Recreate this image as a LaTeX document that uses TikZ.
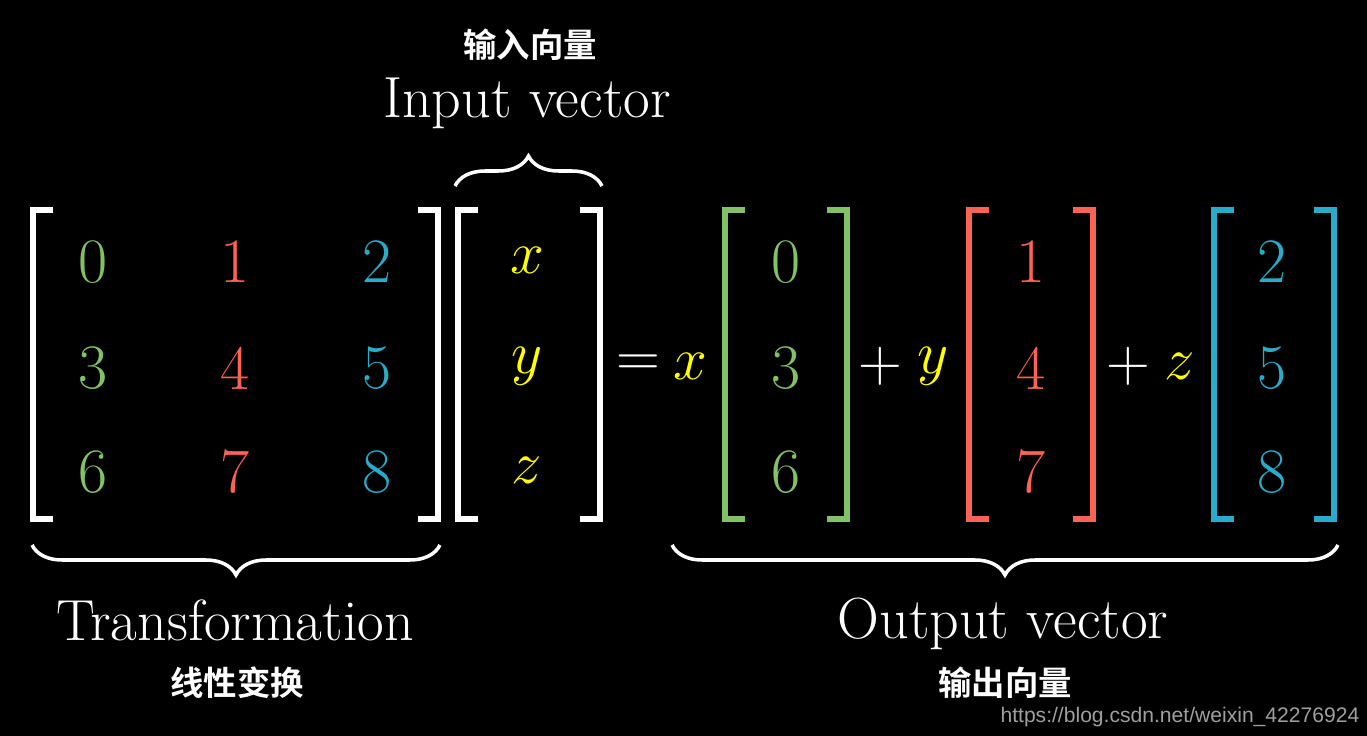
\documentclass[tikz,border=0pt]{standalone}
\usepackage{fontspec}
\newfontfamily\cjk{Noto Sans CJK SC}[BoldFont={* Bold}]
\newfontfamily\wmfont{Liberation Sans}
\usetikzlibrary{decorations.pathreplacing}
\definecolor{cg}{RGB}{131,193,103}
\definecolor{cr}{RGB}{252,98,85}
\definecolor{cb}{RGB}{41,171,202}
\definecolor{cy}{RGB}{255,255,0}
\tikzset{
 num/.style={font=\fontsize{18}{21}\selectfont},
 lbl/.style={white,font=\fontsize{16.5}{19}\selectfont},
 zh/.style={white,font=\cjk\bfseries\fontsize{9.5}{11}\selectfont},
 brk/.style={line width=1.7pt},
 brc/.style={white,line width=1pt,decorate,decoration={brace,amplitude=0.3cm}},
}
\newcommand{\lb}[4]{\draw[brk,#4] (#1+0.2,#3) -- (#1,#3) -- (#1,#2) -- (#1+0.2,#2);}
\newcommand{\rb}[4]{\draw[brk,#4] (#1-0.2,#3) -- (#1,#3) -- (#1,#2) -- (#1-0.2,#2);}
\begin{document}
\begin{tikzpicture}[y=-1cm]
\fill[black] (0,0) rectangle (13.67,7.36);
\useasboundingbox (0,0) rectangle (13.67,7.36);
% matrix
\lb{0.33}{2.1}{5.19}{white}
\rb{4.38}{2.1}{5.19}{white}
\foreach \v/\c/\x/\y in {0/cg/0.93/2.62,1/cr/2.35/2.62,2/cb/3.77/2.62,3/cg/0.93/3.68,4/cr/2.35/3.68,5/cb/3.77/3.68,6/cg/0.93/4.72,7/cr/2.35/4.72,8/cb/3.77/4.72}
  \node[num,\c] (m\v) at (\x,\y) {\v};
% input vector
\lb{4.58}{2.1}{5.19}{white}
\rb{6.0}{2.1}{5.19}{white}
\node[num,cy] (vx) at (5.27,2.6) {$x$};
\node[num,cy] (vy) at (5.27,3.66) {$y$};
\node[num,cy] (vz) at (5.27,4.7) {$z$};
\node[num,white] (eq) at (6.38,3.66) {$=$};
\node[num,cy] (cx) at (6.9,3.66) {$x$};
\lb{7.25}{2.1}{5.19}{cg}
\rb{8.47}{2.1}{5.19}{cg}
\node[num,cg] (g0) at (7.86,2.62) {0};
\node[num,cg] (g1) at (7.86,3.68) {3};
\node[num,cg] (g2) at (7.86,4.72) {6};
\node[num,white] (p1) at (8.8,3.66) {$+$};
\node[num,cy] (cyy) at (9.33,3.66) {$y$};
\lb{9.69}{2.1}{5.19}{cr}
\rb{10.93}{2.1}{5.19}{cr}
\node[num,cr] (r0) at (10.31,2.62) {1};
\node[num,cr] (r1) at (10.31,3.68) {4};
\node[num,cr] (r2) at (10.31,4.72) {7};
\node[num,white] (p2) at (11.28,3.66) {$+$};
\node[num,cy] (cz) at (11.8,3.66) {$z$};
\lb{12.14}{2.1}{5.19}{cb}
\rb{13.34}{2.1}{5.19}{cb}
\node[num,cb] (b0) at (12.72,2.62) {2};
\node[num,cb] (b1) at (12.72,3.68) {5};
\node[num,cb] (b2) at (12.72,4.72) {8};
% braces
\draw[brc] (4.55,1.86) -- (6.02,1.86);
\draw[brc] (4.4,5.45) -- (0.32,5.45);
\draw[brc] (13.38,5.45) -- (6.72,5.45);
\node[lbl] (tin) at (5.27,1.03) {Input vector};
\node[zh] (zin) at (5.3,0.45) {输入向量};
\node[lbl] (ttr) at (2.35,6.2) {Transformation};
\node[zh] (ztr) at (2.37,6.83) {线性变换};
\node[lbl] (tout) at (10.03,6.24) {Output vector};
\node[zh] (zout) at (10.05,6.83) {输出向量};
\node[gray!75,anchor=east,inner sep=0pt,font=\wmfont\fontsize{6}{7}\selectfont] (wm) at (13.6,7.17) {https://blog.csdn.net/weixin\_42276924};
\end{tikzpicture}
\end{document}
